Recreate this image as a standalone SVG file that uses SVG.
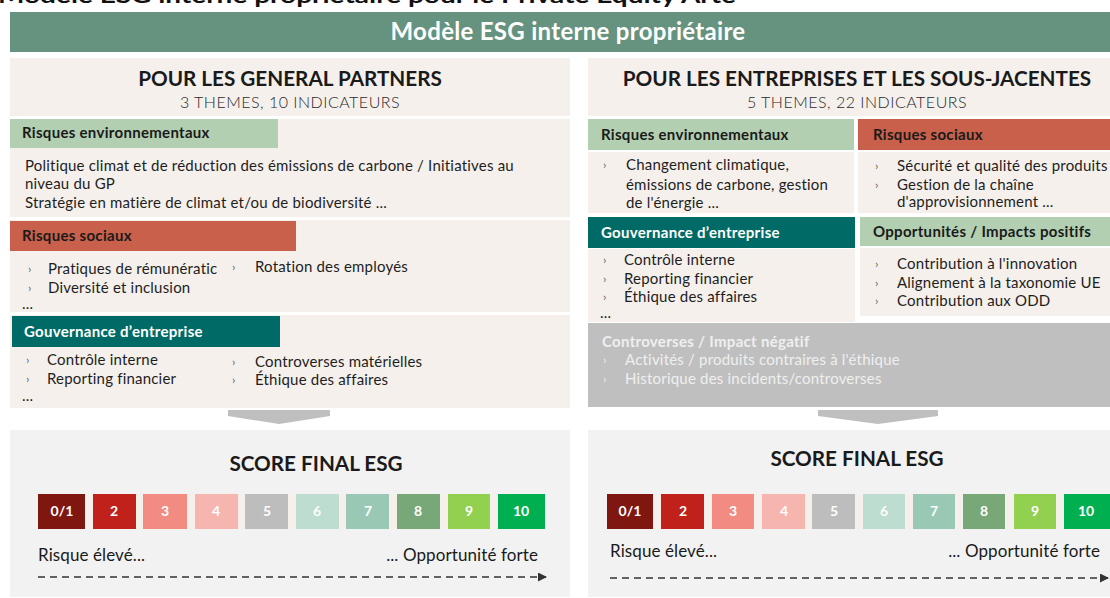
<svg xmlns="http://www.w3.org/2000/svg" width="1110" height="598" viewBox="0 0 1110 598">
<style>
  text { font-family: Lato, "Open Sans", "Liberation Sans", sans-serif; }
  .bg { fill: #F5F0EC; }
  .scorebg { fill: #F2F2F2; }
  .h1 { font-size: 20.7px; font-weight: 700; fill: #1A1A1A; text-anchor: middle; }
  .sub { font-size: 16px; font-weight: 300; fill: #2A2A2A; text-anchor: middle; letter-spacing: 0.5px; }
  .bar { font-size: 15px; font-weight: 700; letter-spacing: 0.3px; }
  .dark { fill: #1A1A1A; }
  .white { fill: #FFFFFF; }
  .body { font-size: 15px; fill: #1E1E1E; letter-spacing: 0.2px; }
  .bul { font-size: 12px; fill: #666; }
  .env { fill: #B3CFB1; }
  .soc { fill: #C8604B; }
  .gov { fill: #006B66; }
  .light { fill: #EFEFEF; }
  .lbl { font-size: 14px; font-weight: 700; fill: #FFFFFF; text-anchor: middle; }
  .scale { font-size: 17px; fill: #1A1A1A; letter-spacing: 0.1px; }
  .chev { fill: #BFBFBF; }
  .dash { stroke: #333; stroke-width: 1.4; stroke-dasharray: 7 5; fill: none; }
</style>
<defs>
  <marker id="ah" markerWidth="9" markerHeight="9" refX="8" refY="4.5" orient="auto" markerUnits="userSpaceOnUse">
    <path d="M0,0 L9,4.5 L0,9 Z" fill="#333"/>
  </marker>
</defs>
<rect x="0" y="0" width="1110" height="598" fill="#FFFFFF"/>

<text x="-2" y="3" style="font-size:20px;font-weight:700;fill:#111" textLength="738" lengthAdjust="spacingAndGlyphs">Modèle ESG interne propriétaire pour le Private Equity Arte</text>

<g id="header">
  <rect x="10" y="12" width="1100" height="40" fill="#65937F"/>
  <text x="568" y="40" style="font-size:24px;font-weight:700;fill:#FFFFFF;text-anchor:middle;letter-spacing:0.3px">Modèle ESG interne propriétaire</text>
</g>

<!-- LEFT PANEL -->
<g id="gp-title">
  <rect class="bg" x="10" y="58" width="560" height="58"/>
  <text class="h1" x="290" y="86">POUR LES GENERAL PARTNERS</text>
  <text class="sub" x="290" y="108">3 THEMES, 10 INDICATEURS</text>
</g>
<g id="gp-env">
  <rect class="bg" x="10" y="119" width="560" height="98"/>
  <rect class="env" x="10" y="119" width="268" height="29"/>
  <text class="bar dark" x="22" y="138">Risques environnementaux</text>
  <text class="body" x="25" y="171">Politique climat et de réduction des émissions de carbone / Initiatives au</text>
  <text class="body" x="25" y="189">niveau du GP</text>
  <text class="body" x="25" y="208">Stratégie en matière de climat et/ou de biodiversité ...</text>
</g>
<g id="gp-soc">
  <rect class="bg" x="10" y="220" width="560" height="92"/>
  <rect class="soc" x="10" y="221" width="286" height="30"/>
  <text class="bar dark" x="22" y="241">Risques sociaux</text>
  <text class="bul" x="28" y="273">›</text>
  <text class="body" x="48" y="274">Pratiques de rémunératic</text>
  <text class="bul" x="232" y="271">›</text>
  <text class="body" x="255" y="272">Rotation des employés</text>
  <text class="bul" x="28" y="292">›</text>
  <text class="body" x="48" y="293">Diversité et inclusion</text>
  <text class="body" x="22" y="309">...</text>
</g>
<g id="gp-gov">
  <rect class="bg" x="10" y="315" width="560" height="93"/>
  <rect class="gov" x="12" y="316" width="268" height="31"/>
  <text class="bar white" x="24" y="337">Gouvernance d’entreprise</text>
  <text class="bul" x="26" y="364">›</text>
  <text class="body" x="47" y="365">Contrôle interne</text>
  <text class="bul" x="26" y="383">›</text>
  <text class="body" x="47" y="384">Reporting financier</text>
  <text class="bul" x="232" y="366">›</text>
  <text class="body" x="255" y="367">Controverses matérielles</text>
  <text class="bul" x="232" y="384">›</text>
  <text class="body" x="255" y="385">Éthique des affaires</text>
  <text class="body" x="22" y="401">...</text>
</g>

<g id="gp-score">
  <rect class="scorebg" x="10" y="430" width="560" height="167"/>
  <text class="h1" x="316" y="471">SCORE FINAL ESG</text>
  <rect x="38" y="494" width="507" height="35" fill="#F5F0EC"/>
  <rect x="38" y="494" width="47" height="35" fill="#7F1710"/><text class="lbl" x="62" y="516">0/1</text>
  <rect x="93" y="494" width="43" height="35" fill="#C0211A"/><text class="lbl" x="114" y="516">2</text>
  <rect x="143" y="494" width="44" height="35" fill="#F28B82"/><text class="lbl" x="165" y="516">3</text>
  <rect x="195" y="494" width="43" height="35" fill="#F7B5AF"/><text class="lbl" x="216" y="516">4</text>
  <rect x="245" y="494" width="43" height="35" fill="#BDBDBD"/><text class="lbl" x="267" y="516">5</text>
  <rect x="296" y="494" width="43" height="35" fill="#BCDDCF"/><text class="lbl" x="317" y="516">6</text>
  <rect x="346" y="494" width="43" height="35" fill="#99C8B5"/><text class="lbl" x="368" y="516">7</text>
  <rect x="397" y="494" width="43" height="35" fill="#78A878"/><text class="lbl" x="418" y="516">8</text>
  <rect x="448" y="494" width="42" height="35" fill="#92D050"/><text class="lbl" x="469" y="516">9</text>
  <rect x="498" y="494" width="47" height="35" fill="#00B050"/><text class="lbl" x="521" y="516">10</text>
  <text class="scale" x="38" y="561">Risque élevé...</text>
  <text class="scale" x="538" y="561" text-anchor="end">... Opportunité forte</text>
</g>

<!-- RIGHT PANEL -->
<g id="co-title">
  <rect class="bg" x="588" y="58" width="522" height="58"/>
  <text class="h1" x="857" y="86">POUR LES ENTREPRISES ET LES SOUS-JACENTES</text>
  <text class="sub" x="857" y="108">5 THEMES, 22 INDICATEURS</text>
</g>
<g id="co-env">
  <rect class="env" x="588" y="119" width="266" height="31"/>
  <text class="bar dark" x="601" y="140">Risques environnementaux</text>
  <rect class="bg" x="588" y="152" width="266" height="61"/>
  <text class="bul" x="603" y="169">›</text>
  <text class="body" x="626" y="170">Changement climatique,</text>
  <text class="body" x="626" y="190">émissions de carbone, gestion</text>
  <text class="body" x="626" y="208">de l'énergie ...</text>
</g>
<g id="co-soc">
  <rect class="soc" x="858" y="119" width="252" height="31"/>
  <text class="bar dark" x="873" y="140">Risques sociaux</text>
  <rect class="bg" x="858" y="152" width="252" height="61"/>
  <text class="bul" x="875" y="170">›</text>
  <text class="body" x="897" y="171">Sécurité et qualité des produits</text>
  <text class="bul" x="875" y="189">›</text>
  <text class="body" x="897" y="190">Gestion de la chaîne</text>
  <text class="body" x="897" y="207">d'approvisionnement ...</text>
</g>
<g id="co-gov">
  <rect class="gov" x="588" y="217" width="267" height="31"/>
  <text class="bar white" x="601" y="238">Gouvernance d’entreprise</text>
  <rect class="bg" x="588" y="249" width="267" height="73"/>
  <text class="bul" x="603" y="264">›</text>
  <text class="body" x="624" y="265">Contrôle interne</text>
  <text class="bul" x="603" y="283">›</text>
  <text class="body" x="624" y="284">Reporting financier</text>
  <text class="bul" x="603" y="301">›</text>
  <text class="body" x="624" y="302">Éthique des affaires</text>
  <text class="body" x="600" y="318">...</text>
</g>
<g id="co-opp">
  <rect class="env" x="860" y="217" width="250" height="29"/>
  <text class="bar dark" x="873" y="237">Opportunités / Impacts positifs</text>
  <rect class="bg" x="860" y="248" width="250" height="68"/>
  <text class="bul" x="875" y="268">›</text>
  <text class="body" x="897" y="269">Contribution à l'innovation</text>
  <text class="bul" x="875" y="287">›</text>
  <text class="body" x="897" y="288">Alignement à la taxonomie UE</text>
  <text class="bul" x="875" y="305">›</text>
  <text class="body" x="897" y="306">Contribution aux ODD</text>
</g>
<g id="co-contro">
  <rect x="588" y="323" width="522" height="84" fill="#BFBFBF"/>
  <text class="bar light" x="602" y="347">Controverses / Impact négatif</text>
  <text class="bul light" x="603" y="364">›</text>
  <text class="body light" x="625" y="365">Activités / produits contraires à l'éthique</text>
  <text class="bul light" x="603" y="383">›</text>
  <text class="body light" x="625" y="384">Historique des incidents/controverses</text>
</g>

<g id="co-score">
  <rect class="scorebg" x="588" y="430" width="522" height="167"/>
  <text class="h1" x="857" y="466">SCORE FINAL ESG</text>
  <rect x="607" y="494" width="503" height="35" fill="#F5F0EC"/>
  <rect x="607" y="494" width="46" height="35" fill="#7F1710"/><text class="lbl" x="630" y="516">0/1</text>
  <rect x="661" y="494" width="43" height="35" fill="#C0211A"/><text class="lbl" x="683" y="516">2</text>
  <rect x="712" y="494" width="42" height="35" fill="#F28B82"/><text class="lbl" x="733" y="516">3</text>
  <rect x="762" y="494" width="43" height="35" fill="#F7B5AF"/><text class="lbl" x="784" y="516">4</text>
  <rect x="812" y="494" width="43" height="35" fill="#BDBDBD"/><text class="lbl" x="834" y="516">5</text>
  <rect x="863" y="494" width="42" height="35" fill="#BCDDCF"/><text class="lbl" x="884" y="516">6</text>
  <rect x="913" y="494" width="42" height="35" fill="#99C8B5"/><text class="lbl" x="934" y="516">7</text>
  <rect x="963" y="494" width="42" height="35" fill="#78A878"/><text class="lbl" x="984" y="516">8</text>
  <rect x="1014" y="494" width="42" height="35" fill="#92D050"/><text class="lbl" x="1035" y="516">9</text>
  <rect x="1064" y="494" width="46" height="35" fill="#00B050"/><text class="lbl" x="1086" y="516">10</text>
  <text class="scale" x="610" y="557">Risque élevé...</text>
  <text class="scale" x="1100" y="557" text-anchor="end">... Opportunité forte</text>
</g>

<g id="connectors">
  <polygon class="chev" points="228,410 330,410 330,416 279,424 228,416"/>
  <polygon class="chev" points="818,410 938,410 938,416 878,424 818,416"/>
  <line class="dash" x1="38" y1="577" x2="546" y2="577" marker-end="url(#ah)"/>
  <line class="dash" x1="610" y1="578" x2="1108" y2="578" marker-end="url(#ah)"/>
</g>
</svg>
